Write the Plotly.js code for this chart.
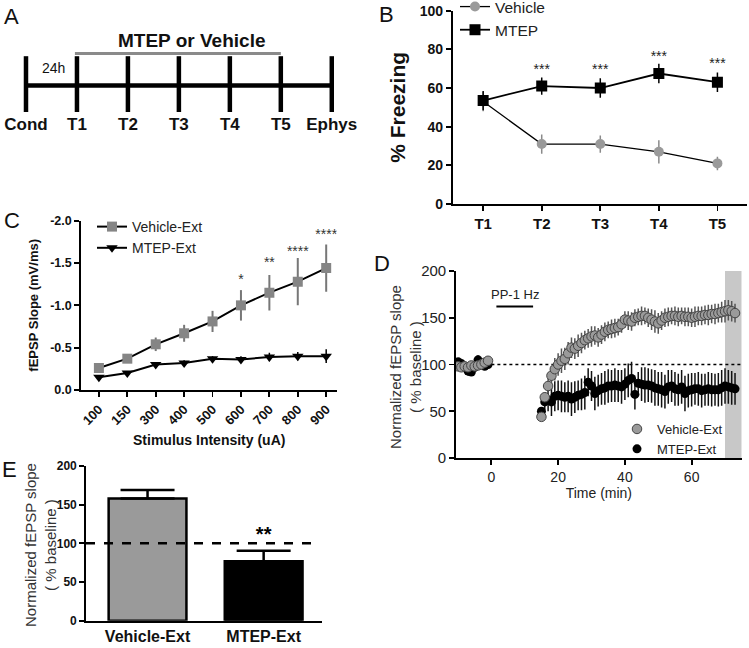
<!DOCTYPE html>
<html><head><meta charset="utf-8">
<script src="https://cdn.plot.ly/plotly-3.0.1.min.js"></script>
<style>html,body{margin:0;padding:0;background:#fff}#chart{width:749px;height:648px}</style>
</head><body><div id="chart"></div>
<script>
// ---------- Panel A: timeline ----------
const timelineLabels = ['Cond','T1','T2','T3','T4','T5','Ephys'];
const timelinePos = [0, 1, 2, 3, 4, 5, 6];
const treatmentSpan = [0.96, 5.0];

// ---------- Panel B: % freezing ----------
const testDays = ['T1','T2','T3','T4','T5'];
const vehicleFreeze = [53, 31, 31, 27, 21];
const vehicleFreezeErr = [5, 5, 4.5, 6, 3.5];
const mtepFreeze = [53.5, 61, 60, 67.5, 63];
const mtepFreezeErr = [5, 4.5, 5, 5, 5];
const freezeSigDays = ['T2','T3','T4','T5'];
const freezeSigY = [69, 69, 76, 72];
const freezeSigText = ['***','***','***','***'];

// ---------- Panel C: input-output ----------
const stimIntensity = ['100','150','300','400','500','600','700','800','900'];
const vehicleSlope = [-0.26, -0.37, -0.54, -0.67, -0.81, -1.00, -1.15, -1.28, -1.44];
const vehicleSlopeErr = [0.03, 0.04, 0.08, 0.10, 0.125, 0.18, 0.21, 0.28, 0.28];
const mtepSlope = [-0.15, -0.20, -0.30, -0.32, -0.37, -0.36, -0.39, -0.40, -0.40];
const mtepSlopeErr = [0.02, 0.02, 0.03, 0.03, 0.03, 0.04, 0.05, 0.05, 0.08];
const slopeSigX = ['600','700','800','900'];
const slopeSigY = [-1.29, -1.50, -1.63, -1.83];
const slopeSigText = ['*','**','****','****'];
const slopeTickVals = [0, -0.5, -1.0, -1.5, -2.0];
const slopeTickText = ['0.0','-0.5','-1.0','-1.5','-2.0'];

// ---------- Panel D: time course ----------
const timeMin = [-10,-9,-8,-7,-6,-5,-4,-3,-2,-1,
  15,16,17,18,19,20,21,22,23,24,25,26,27,28,29,30,31,32,33,34,35,36,37,38,39,40,41,42,43,44,
  45,46,47,48,49,50,51,52,53,54,55,56,57,58,59,60,61,62,63,64,65,66,67,68,69,70,71,72,73];
const vehicleLTP = [98,97,98,97,99,98,99,100,102,104,
  44,65,77,88,95,100,104,106,112,118,117,120,123,126,128,130,131,129,132,135,137,138,139,140,143,148,147,146,150,151,
  152,152,150,148,146,144,147,150,151,152,152,151,152,151,151,150,151,152,152,153,153,154,154,155,156,157,158,157,155];
const vehicleLTPErr = [4,3,3,4,3,3,3,4,3,3,
  3,5,8,10,12,12,13,12,12,11,11,12,11,10,10,11,10,10,10,10,9,10,10,9,9,9,10,10,9,9,
  10,9,10,11,12,11,10,10,10,9,10,10,9,10,10,10,11,10,10,10,11,10,11,10,11,12,11,11,10];
const mtepLTP = [103,101,98,93,92,97,105,100,98,100,
  50,60,62,60,66,67,66,65,66,63,65,67,68,70,81,77,69,72,74,75,77,77,78,77,76,79,83,85,68,80,
  79,78,78,77,75,74,73,71,76,77,74,73,76,69,72,73,74,74,72,73,74,73,73,73,75,77,76,75,74];
const mtepLTPErr = [4,4,3,5,4,4,5,4,4,3,
  4,8,12,15,16,16,17,16,17,18,17,16,17,18,15,16,18,17,17,18,18,17,18,17,18,17,18,18,16,12,
  18,19,18,18,19,18,19,18,18,17,18,17,18,19,18,18,17,18,18,17,18,18,17,18,19,19,18,18,17];
const stimWindow = [1.5, 12.5];
const stimLevel = 162;
const analysisWindow = [70, 75];
const baselineLevel = 100;

// ---------- Panel E: summary bars ----------
const groups = ['Vehicle-Ext','MTEP-Ext'];
const groupMeans = [158, 77];
const groupErr = [11, 13.5];
const groupSigText = ['', '**'];
const groupSigY = [null, 110];

// ---------- layout helpers ----------
const W = 749, H = 648;
const FONT = 'Liberation Sans, Arial, Helvetica, sans-serif';
const xd = (a, b) => [a / W, b / W];
const py = (px) => 1 - px / H;
const yd = (top, bottom) => [py(bottom), py(top)];

const gp = (extra) => Object.assign({
  showgrid: false, zeroline: false, showline: true, linecolor: '#000', linewidth: 1.8,
  ticks: 'outside', ticklen: 5, tickwidth: 1.8, tickcolor: '#000', automargin: false,
  tickfont: {family: FONT, size: 14, color: '#111', weight: 'bold'}
}, extra);

const traces = [];

// Panel A
traces.push({x: [timelinePos[0], timelinePos[timelinePos.length-1]], y: [0, 0], xaxis: 'x', yaxis: 'y',
  mode: 'lines', line: {color: '#000', width: 4.5}, showlegend: false, hoverinfo: 'skip'});
traces.push({x: timelinePos, y: timelinePos.map(() => 0), xaxis: 'x', yaxis: 'y', mode: 'markers',
  marker: {symbol: 'line-ns', size: 42, line: {color: '#000', width: 4.5}}, showlegend: false});
traces.push({x: treatmentSpan, y: [1, 1], xaxis: 'x', yaxis: 'y', mode: 'lines',
  line: {color: '#8a8a8a', width: 3}, showlegend: false});

// Panel B
traces.push({x: testDays, y: vehicleFreeze, xaxis: 'x2', yaxis: 'y2', name: 'Vehicle', legend: 'legend',
  mode: 'lines+markers', line: {color: '#000', width: 1.3},
  marker: {symbol: 'circle', size: 10, color: '#9a9a9a'},
  error_y: {type: 'data', array: vehicleFreezeErr, color: '#8a8a8a', thickness: 1.5, width: 0}});
traces.push({x: testDays, y: mtepFreeze, xaxis: 'x2', yaxis: 'y2', name: 'MTEP', legend: 'legend',
  mode: 'lines+markers', line: {color: '#000', width: 1.8},
  marker: {symbol: 'square', size: 11, color: '#000'},
  error_y: {type: 'data', array: mtepFreezeErr, color: '#000', thickness: 1.5, width: 0}});
traces.push({x: freezeSigDays, y: freezeSigY, xaxis: 'x2', yaxis: 'y2', mode: 'text', text: freezeSigText,
  textfont: {family: FONT, size: 14, color: '#222'}, showlegend: false});

// Panel C
traces.push({x: stimIntensity, y: vehicleSlope, xaxis: 'x3', yaxis: 'y3', name: 'Vehicle-Ext', legend: 'legend2',
  mode: 'lines+markers', line: {color: '#000', width: 2},
  marker: {symbol: 'square', size: 10, color: '#858585'},
  error_y: {type: 'data', array: vehicleSlopeErr, color: '#777', thickness: 2, width: 0}});
traces.push({x: stimIntensity, y: mtepSlope, xaxis: 'x3', yaxis: 'y3', name: 'MTEP-Ext', legend: 'legend2',
  mode: 'lines+markers', line: {color: '#000', width: 2},
  marker: {symbol: 'triangle-down', size: 10, color: '#000'},
  error_y: {type: 'data', array: mtepSlopeErr, color: '#000', thickness: 1.5, width: 0}});
traces.push({x: slopeSigX, y: slopeSigY, xaxis: 'x3', yaxis: 'y3', mode: 'text', text: slopeSigText,
  textfont: {family: FONT, size: 14, color: '#333'}, showlegend: false});

// Panel D
traces.push({x: timeMin, y: mtepLTP, xaxis: 'x4', yaxis: 'y4', name: 'MTEP-Ext', legend: 'legend3',
  mode: 'markers', marker: {symbol: 'circle', size: 9, color: '#000'},
  error_y: {type: 'data', array: mtepLTPErr, color: '#111', thickness: 1.5, width: 0}});
traces.push({x: timeMin, y: vehicleLTP, xaxis: 'x4', yaxis: 'y4', name: 'Vehicle-Ext', legend: 'legend3',
  mode: 'markers', marker: {symbol: 'circle', size: 9.5, color: '#9a9a9a', line: {color: '#444', width: 1}},
  error_y: {type: 'data', array: vehicleLTPErr, color: '#555', thickness: 1.5, width: 0}});
traces.push({x: stimWindow, y: [stimLevel, stimLevel], xaxis: 'x4', yaxis: 'y4', mode: 'lines',
  line: {color: '#000', width: 2}, showlegend: false});

// Panel E
traces.push({x: groups, y: groupMeans, xaxis: 'x5', yaxis: 'y5', type: 'bar', width: 0.67,
  marker: {color: ['#9a9a9a', '#000'], line: {color: '#000', width: 2.5}},
  error_y: {type: 'data', symmetric: false, array: groupErr, arrayminus: groupErr.map(() => 0),
    color: '#000', thickness: 2.5, width: 27}, showlegend: false});
traces.push({x: groups, y: groupSigY, xaxis: 'x5', yaxis: 'y5', mode: 'text', text: groupSigText,
  textfont: {family: FONT, size: 20, color: '#000', weight: 'bold'}, showlegend: false});

const letter = (t, x, y) => ({text: t, xref: 'paper', yref: 'paper', x: x / W, y: py(y), xanchor: 'left', yanchor: 'top',
  showarrow: false, font: {family: FONT, size: 22, color: '#111'}});

const layout = {
  width: W, height: H, margin: {l: 0, r: 0, t: 0, b: 0, autoexpand: false},
  paper_bgcolor: '#fff', plot_bgcolor: 'rgba(0,0,0,0)',
  font: {family: FONT, color: '#000'},
  // A
  xaxis: {domain: xd(0, 370), range: [-0.51, 6.75], showline: false, showgrid: false, zeroline: false,
    anchor: 'y', tickvals: timelinePos, ticktext: timelineLabels, ticks: '', automargin: false,
    tickfont: {family: FONT, size: 17, color: '#111', weight: 'bold'}},
  yaxis: {domain: yd(18, 112), range: [-0.82, 2.1], visible: false, anchor: 'x'},
  // B
  xaxis2: gp({domain: xd(452.7, 746.7), anchor: 'y2', range: [-0.52, 4.5], type: 'category', categoryarray: testDays,
    tickfont: {family: FONT, size: 15, color: '#111', weight: 'bold'}}),
  yaxis2: gp({domain: yd(10.7, 204), anchor: 'x2', range: [0, 100], tickvals: [0,20,40,60,80,100],
    title: {text: '% Freezing', font: {family: FONT, size: 21, color: '#111', weight: 'bold'}, standoff: 8}}),
  // C
  xaxis3: gp({domain: xd(81, 336.7), anchor: 'y3', range: [-0.63, 8.37], type: 'category', categoryarray: stimIntensity,
    tickangle: -45, tickfont: {family: FONT, size: 13, color: '#111', weight: 'bold'}}),
  yaxis3: gp({domain: yd(220.7, 390), anchor: 'x3', range: [0, -2], tickvals: slopeTickVals, ticktext: slopeTickText,
    tickfont: {family: FONT, size: 12.5, color: '#111', weight: 'bold'},
    title: {text: 'fEPSP Slope (mV/ms)', font: {family: FONT, size: 13, color: '#111', weight: 'bold'}, standoff: 8}}),
  // D
  xaxis4: gp({domain: xd(456, 741.7), anchor: 'y4', range: [-10.6, 75], tickvals: [0, 20, 40, 60],
    tickfont: {family: FONT, size: 14, color: '#222'},
    title: {text: 'Time (min)', font: {family: FONT, size: 14, color: '#222'}, standoff: 2}}),
  yaxis4: gp({domain: yd(271, 458), anchor: 'x4', range: [0, 200], tickvals: [0, 50, 100, 150, 200],
    tickfont: {family: FONT, size: 15, color: '#222'}}),
  // E
  xaxis5: gp({domain: xd(86, 321.7), anchor: 'y5', range: [-0.53, 1.5], type: 'category', categoryarray: groups,
    ticks: '', tickfont: {family: FONT, size: 16, color: '#111', weight: 'bold'}}),
  yaxis5: gp({domain: yd(466, 620.7), anchor: 'x5', range: [0, 200], tickvals: [0, 50, 100, 150, 200],
    tickfont: {family: FONT, size: 12, color: '#111', weight: 'bold'}}),
  legend: {x: 455 / W, y: py(-10), xanchor: 'left', yanchor: 'top', bgcolor: 'rgba(0,0,0,0)',
    font: {family: FONT, size: 15.5, color: '#222'}, tracegroupgap: 0},
  legend2: {x: 92 / W, y: py(211), xanchor: 'left', yanchor: 'top', bgcolor: 'rgba(0,0,0,0)',
    font: {family: FONT, size: 14, color: '#222'}},
  legend3: {x: 617 / W, y: py(414), xanchor: 'left', yanchor: 'top', bgcolor: 'rgba(0,0,0,0)',
    traceorder: 'reversed', font: {family: FONT, size: 13, color: '#222'}},
  shapes: [
    {type: 'rect', xref: 'x4', yref: 'y4', x0: analysisWindow[0], x1: analysisWindow[1], y0: 0, y1: 200,
      fillcolor: '#c8c8c8', line: {width: 0}, layer: 'below'},
    {type: 'line', xref: 'x4', yref: 'y4', x0: 0, x1: 75, y0: baselineLevel, y1: baselineLevel,
      line: {color: '#000', width: 1.5, dash: 'dot'}, layer: 'below'},
    {type: 'line', xref: 'x5', yref: 'y5', x0: -0.53, x1: 1.47, y0: baselineLevel, y1: baselineLevel,
      line: {color: '#000', width: 2.5, dash: 'dash'}, layer: 'above'}
  ],
  annotations: [
    {text: 'MTEP or Vehicle', xref: 'x', yref: 'y', x: 3.25, y: 1.0, yanchor: 'bottom', showarrow: false,
      font: {family: FONT, size: 19, color: '#111', weight: 'bold'}},
    {text: '24h', xref: 'x', yref: 'y', x: 0.53, y: 0.54, showarrow: false,
      font: {family: FONT, size: 14, color: '#111'}},
    {text: 'PP-1 Hz', xref: 'x4', yref: 'y4', x: (stimWindow[0] + stimWindow[1]) / 2, y: stimLevel + 3,
      yanchor: 'bottom', showarrow: false, font: {family: FONT, size: 13, color: '#222'}},
    {text: 'Stimulus Intensity (uA)', xref: 'paper', yref: 'paper', x: 208.8 / W, y: py(440),
      xanchor: 'center', yanchor: 'middle', showarrow: false, font: {family: FONT, size: 14, color: '#111', weight: 'bold'}},
    {text: 'Normalized fEPSP slope<br>( % baseline )', xref: 'paper', yref: 'paper', x: 405 / W, y: py(367),
      xanchor: 'center', yanchor: 'middle', textangle: -90, showarrow: false, font: {family: FONT, size: 15, color: '#333'}},
    {text: 'Normalized fEPSP slope<br>( % baseline )', xref: 'paper', yref: 'paper', x: 40 / W, y: py(545),
      xanchor: 'center', yanchor: 'middle', textangle: -90, showarrow: false, font: {family: FONT, size: 15, color: '#333'}},
    letter('A', 2, 2), letter('B', 377, 0), letter('C', 2, 206), letter('D', 372, 249), letter('E', 0, 455)
  ]
};

Plotly.newPlot('chart', traces, layout, {displayModeBar: false, staticPlot: true});
</script>
</body></html>
